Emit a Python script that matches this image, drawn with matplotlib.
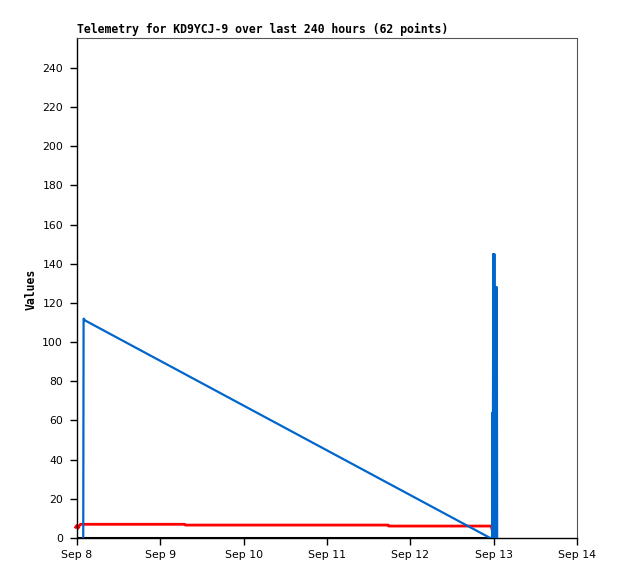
import datetime as dt
import matplotlib
matplotlib.use('Agg')
import matplotlib.pyplot as plt

start = dt.datetime(2023, 9, 8)

# hours after Sep 8 00:00 and the values
blue_hours = [1.8, 1.9, 2.4, 119.0, 119.6, 119.65, 119.7, 119.8, 119.9, 119.95,
              120.0, 120.1, 120.2, 120.25, 120.3, 120.4, 120.5, 120.6, 120.7, 120.8,
              120.9, 121.0]
blue_vals = [0, 112, 111, 0, 0, 64, 0, 64, 145, 0,
             145, 0, 145, 0, 128, 0, 128, 0, 128, 0,
             128, 0]

red_hours = [-0.4, 0.0, 0.3, 0.6, 1.0, 31.0, 31.2, 89.6, 89.8, 119.3, 119.5]
red_vals = [5.5, 6.5, 5.0, 6.0, 7.0, 7.0, 6.6, 6.6, 6.1, 6.1, 4.6]

black_hours = [0.0, 121.0]
black_vals = [0, 0]

ticks = [start + dt.timedelta(days=d) for d in range(7)]
tick_labels = ['Sep %d' % (8 + d) for d in range(7)]
yticks = list(range(0, 241, 20))


def to_dates(hours):
    return [start + dt.timedelta(hours=h) for h in hours]


fig = plt.figure(figsize=(6.18, 5.79), dpi=100)
ax = fig.add_axes([77 / 618, 1 - 538 / 579, 500 / 618, 500 / 579])

ax.plot(to_dates(black_hours), black_vals, color='black', lw=2.2, zorder=1,
        solid_capstyle='butt')
ax.plot(to_dates(red_hours), red_vals, color='#ff0000', lw=2.0, zorder=2,
        clip_on=False)
ax.plot(to_dates(blue_hours), blue_vals, color='#0066cc', lw=1.6, zorder=3)

ax.set_xlim(ticks[0], ticks[-1])
ax.set_ylim(0, 255.3)
ax.set_xticks(ticks)
ax.set_xticklabels(tick_labels)
ax.set_yticks(yticks)

ax.tick_params(axis='both', direction='out', length=5, width=1, labelsize=7.8,
               pad=5)
ax.tick_params(axis='x', pad=4)
for s in ['top', 'right']:
    ax.spines[s].set_color('#555555')
    ax.spines[s].set_linewidth(0.8)
for s in ['left', 'bottom']:
    ax.spines[s].set_color('black')
    ax.spines[s].set_linewidth(1.0)

ax.set_ylabel('Values', fontfamily='DejaVu Sans Mono', fontweight='bold',
              fontsize=8.3, ha='center', va='center')
ax.yaxis.set_label_coords(31.5 / 618, 1 - 289 / 579, transform=fig.transFigure)
fig.text(77 / 618, 1 - 33 / 579, 'Telemetry for KD9YCJ-9 over last 240 hours (62 points)',
         fontfamily='DejaVu Sans Mono', fontweight='bold', fontsize=8.3,
         ha='left', va='baseline')

fig.savefig('out.png', dpi=100)
